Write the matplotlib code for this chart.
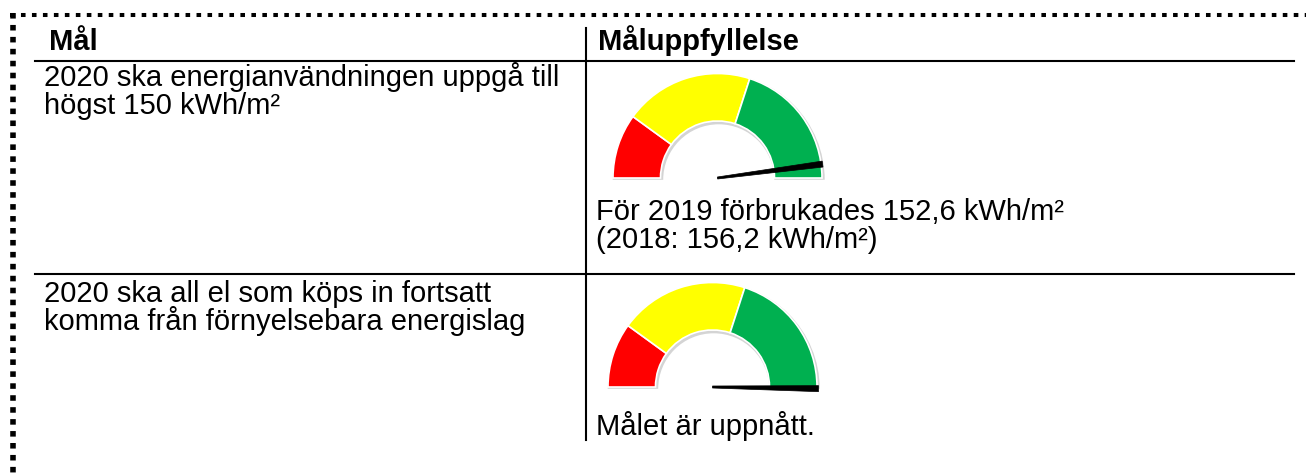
import matplotlib.pyplot as plt
import numpy as np
from matplotlib.patches import Polygon, Wedge


plt.rcParams["font.family"] = ["Liberation Sans", "DejaVu Sans"]
plt.rcParams["lines.scale_dashes"] = False

HEADERS = ["Mål", "Måluppfyllelse"]
GOALS = [
    "2020 ska energianvändningen uppgå till\nhögst 150 kWh/m²",
    "2020 ska all el som köps in fortsatt\nkomma från förnyelsebara energislag",
]
RESULTS = [
    "För 2019 förbrukades 152,6 kWh/m²\n(2018: 156,2 kWh/m²)",
    "Målet är uppnått.",
]

# gauge scale 0..100, segments red / yellow / green
SEGMENT_SIZES = [20, 40, 40]
SEGMENT_COLORS = ["#ff0000", "#ffff00", "#00b050"]
NEEDLE_VALUES = [95.8, 100.5]

WIDTH, HEIGHT = 1306, 475
FONT_SIZE = 21
LINE_STEP = 28

ROW_TOPS = [61, 274]
TEXT_BASELINES = [86, 302]
RESULT_BASELINES = [220, 435]
GAUGE_CENTERS = [(717.5, 178), (712.5, 387)]
R_OUTER = 104.5
R_INNER = 57.0


def value_to_angle(value):
    """Screen angle in degrees: 0 on the left end, 100 on the right end."""
    return 180.0 - 180.0 * value / 100.0


def draw_lines(ax, x, y0, text, **kwargs):
    for i, line in enumerate(text.split("\n")):
        ax.text(x, y0 + i * LINE_STEP, line, fontsize=FONT_SIZE,
                va="baseline", ha="left", color="black", **kwargs)


def draw_gauge(ax, cx, cy, value):
    band = R_OUTER - R_INNER

    # soft shadow behind the ring
    ax.add_patch(Wedge((cx + 1.2, cy + 1.8), R_OUTER + 1.5, -180, 0,
                       width=band + 3.0, facecolor="#d4d4d4",
                       edgecolor="none", zorder=2))

    edges = np.concatenate([[0], np.cumsum(SEGMENT_SIZES)])
    for start, stop, color in zip(edges[:-1], edges[1:], SEGMENT_COLORS):
        a1 = value_to_angle(start)
        a2 = value_to_angle(stop)
        # y axis is flipped, so screen angles become negative data angles
        ax.add_patch(Wedge((cx, cy), R_OUTER, -a1, -a2, width=band,
                           facecolor=color, edgecolor="white",
                           linewidth=1.2, zorder=3))

    angle = np.radians(value_to_angle(value))
    direction = np.array([np.cos(angle), -np.sin(angle)])
    normal = np.array([np.sin(angle), np.cos(angle)])
    base = np.array([cx, cy])
    tip = base + direction * (R_OUTER + 1.5)
    needle = [
        base + normal * 1.0,
        tip + normal * 3.0,
        tip - normal * 3.0,
        base - normal * 1.0,
    ]
    ax.add_patch(Polygon(needle, closed=True, facecolor="black",
                         edgecolor="black", linewidth=0.5, zorder=5))


def main() -> None:
    fig = plt.figure(figsize=(WIDTH / 100, HEIGHT / 100), dpi=100)
    ax = fig.add_axes([0, 0, 1, 1])
    ax.set_xlim(0, WIDTH)
    ax.set_ylim(HEIGHT, 0)
    ax.set_aspect("equal")
    ax.axis("off")

    # dotted frame (top and left)
    ax.plot([10, WIDTH], [14.5, 14.5], color="black", linewidth=2.9,
            dashes=(3.3, 4.6))
    ax.plot([13, 13], [12.5, HEIGHT], color="black", linewidth=4.0,
            dashes=(4.0, 4.6))

    # table rules
    for y in ROW_TOPS:
        ax.plot([35, 1294], [y, y], color="black", linewidth=1.5)
    ax.plot([586, 586], [28, 440], color="black", linewidth=1.5)

    ax.text(49, 50, HEADERS[0], fontsize=FONT_SIZE, fontweight="bold",
            va="baseline", ha="left")
    ax.text(598, 50, HEADERS[1], fontsize=FONT_SIZE, fontweight="bold",
            va="baseline", ha="left")

    for goal, y in zip(GOALS, TEXT_BASELINES):
        draw_lines(ax, 44, y, goal)

    for result, y in zip(RESULTS, RESULT_BASELINES):
        draw_lines(ax, 596, y, result)

    for (cx, cy), value in zip(GAUGE_CENTERS, NEEDLE_VALUES):
        draw_gauge(ax, cx, cy, value)

    fig.savefig("out.png", dpi=100, facecolor="white")
    plt.close(fig)


if __name__ == "__main__":
    main()
